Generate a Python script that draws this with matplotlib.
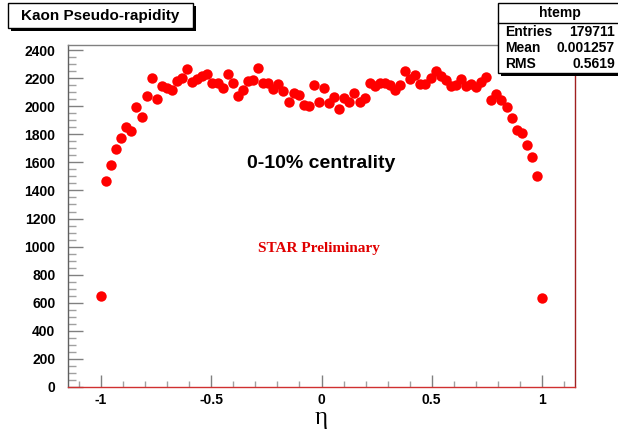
import numpy as np
import matplotlib.pyplot as plt
from matplotlib.patches import Rectangle
from matplotlib.lines import Line2D
from matplotlib.ticker import MultipleLocator

plt.rcParams["font.family"] = ["Liberation Sans", "DejaVu Sans"]
plt.rcParams["font.weight"] = "bold"

# histogram of kaon eta, 100 bins on [-1.15, 1.15], only bins 6..93 filled
n_bins = 100
eta_lo, eta_hi = -1.15, 1.15
first_bin = 6
counts = [650, 1470, 1583, 1698, 1772, 1853, 1825, 1992, 1922, 2070,
          2200, 2050, 2145, 2129, 2113, 2180, 2198, 2263, 2172, 2193,
          2218, 2233, 2162, 2163, 2133, 2227, 2167, 2076, 2118, 2183,
          2190, 2272, 2165, 2165, 2124, 2160, 2106, 2027, 2096, 2083,
          2011, 2002, 2153, 2027, 2131, 2025, 2065, 1980, 2058, 2031,
          2094, 2031, 2061, 2165, 2144, 2163, 2165, 2153, 2118, 2148,
          2252, 2193, 2225, 2160, 2160, 2202, 2254, 2212, 2190, 2142,
          2153, 2195, 2141, 2160, 2135, 2171, 2210, 2047, 2088, 2041,
          1993, 1913, 1832, 1812, 1723, 1636, 1504, 635]

title = "Kaon Pseudo-rapidity"
stats_name = "htemp"
stats_rows = [("Entries", "179711"), ("Mean", "0.001257"), ("RMS", "0.5619")]

edges = np.linspace(eta_lo, eta_hi, n_bins + 1)
centers = 0.5 * (edges[:-1] + edges[1:])
eta = centers[first_bin:first_bin + len(counts)]

W, H = 618, 432
fig = plt.figure(figsize=(W / 100, H / 100), dpi=100)


def fx(px):
    return px / W


def fy(py):
    return 1 - py / H


ax = fig.add_axes([fx(68), fy(387), 507 / W, 342 / H])
ax.plot(eta, counts, "o", color="#ff0000", markersize=7.5, markeredgewidth=0)
ax.set_xlim(eta_lo, eta_hi)
ax.set_ylim(0, 2436)

ax.xaxis.set_major_locator(MultipleLocator(0.5))
ax.xaxis.set_minor_locator(MultipleLocator(0.1))
ax.yaxis.set_major_locator(MultipleLocator(200))
ax.yaxis.set_minor_locator(MultipleLocator(50))
ax.set_xticks([-1, -0.5, 0, 0.5, 1])
ax.set_xticklabels(["-1", "-0.5", "0", "0.5", "1"])

ax.tick_params(axis="y", which="major", direction="in", length=11, width=1,
               color="#808080", labelsize=10, pad=9)
ax.tick_params(axis="y", which="minor", direction="in", length=5.5, width=1,
               color="#a0a0a0")
ax.tick_params(axis="x", which="major", direction="in", length=8.5, width=1,
               color="#808080", labelsize=10, pad=4)
ax.tick_params(axis="x", which="minor", direction="in", length=4.3, width=1,
               color="#a0a0a0")

ax.spines["left"].set_color("#606060")
ax.spines["top"].set_color("#808080")
ax.spines["right"].set_color("#a02020")
ax.spines["bottom"].set_color("#d03030")
for s in ax.spines.values():
    s.set_linewidth(1)

ax.set_xlabel("η", family="Liberation Serif", fontweight="normal",
              fontsize=18, labelpad=0)

ax.text(0.0, 1590, "0-10% centrality", ha="center", va="center",
        fontsize=14, fontweight="bold", color="black")
ax.text(-0.01, 985, "STAR Preliminary", ha="center", va="center",
        fontsize=11, fontweight="bold", color="#e00000",
        family="Liberation Serif")

# title box with shadow
fig.add_artist(Rectangle((fx(11), fy(31)), 185 / W, 25 / H,
                         facecolor="black", edgecolor="none"))
fig.add_artist(Rectangle((fx(8), fy(28)), 185 / W, 25 / H,
                         facecolor="white", edgecolor="black", linewidth=1))
fig.text(fx(100), fy(16), title, ha="center", va="center", fontsize=11,
         fontweight="bold")

# stats box with shadow (runs off the right edge like the original)
fig.add_artist(Rectangle((fx(501), fy(76)), 140 / W, 73 / H,
                         facecolor="black", edgecolor="none"))
fig.add_artist(Rectangle((fx(498), fy(73)), 140 / W, 70 / H,
                         facecolor="white", edgecolor="black", linewidth=1))
fig.add_artist(Line2D([fx(498), 1], [fy(23), fy(23)], color="black",
                      linewidth=1))
fig.text(fx(560), fy(13), stats_name, ha="center", va="center",
         fontsize=10, fontweight="bold")
for i, (name, val) in enumerate(stats_rows):
    y = fy(32 + 16 * i)
    fig.text(fx(505), y, name, ha="left", va="center", fontsize=10,
             fontweight="bold")
    fig.text(fx(615), y, val, ha="right", va="center", fontsize=10,
             fontweight="bold")

fig.savefig("out.png", dpi=100)
